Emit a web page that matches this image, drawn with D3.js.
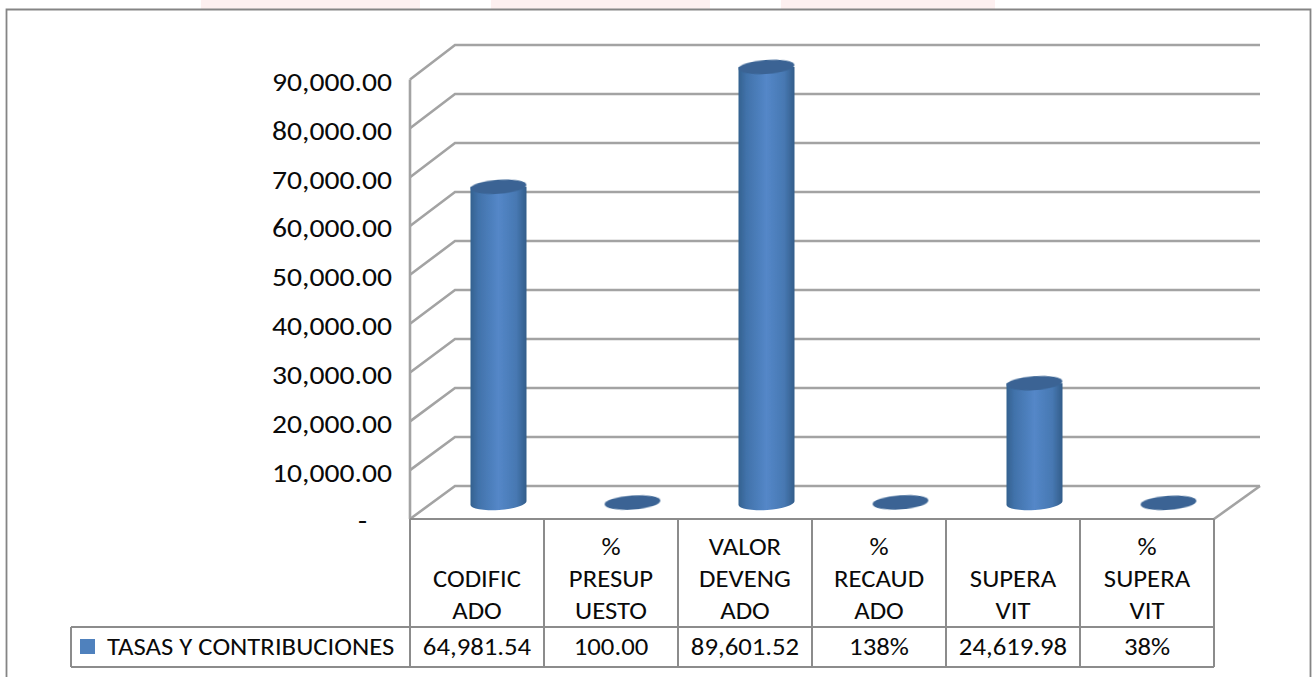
<!DOCTYPE html>
<html>
<head>
<meta charset="utf-8">
<script src="https://cdnjs.cloudflare.com/ajax/libs/d3/7.8.5/d3.min.js"></script>
<style>
  html, body { margin: 0; padding: 0; background: #fff; }
  svg { display: block; }
  text { font-family: Carlito, Lato, "Open Sans", sans-serif; fill: #0a0a0a; }
</style>
</head>
<body>
<svg id="chart" width="1316" height="677"></svg>
<script>
const categories = [['CODIFIC', 'ADO'], ['%', 'PRESUP', 'UESTO'], ['VALOR', 'DEVENG', 'ADO'], ['%', 'RECAUD', 'ADO'], ['SUPERA', 'VIT'], ['%', 'SUPERA', 'VIT']];
const values = [64981.54, 100, 89601.52, 138, 24619.98, 38];
const tableLabels = ['64,981.54', '100.00', '89,601.52', '138%', '24,619.98', '38%'];
const yTicks = [0, 10000, 20000, 30000, 40000, 50000, 60000, 70000, 80000, 90000];
const seriesName = 'TASAS Y CONTRIBUCIONES';
const washX = [[201, 420], [491, 710], [781, 995]];

const svg = d3.select('#chart');
const gridColor = '#a3a3a3';
const tableColor = '#8c8c8c';
// the source picture is stretched sideways, so the text is too
const axisStretch = 1.14;
const tableStretch = 1.07;

const x = d3.scaleBand().domain(d3.range(categories.length)).range([410, 1214]);
const yFront = d3.scaleLinear().domain([0, 90000]).range([519, 79.5]);
const yBack = d3.scaleLinear().domain([0, 90000]).range([486, 45]);
const yBar = d3.scaleLinear().domain([0, 90000]).range([503, 65]);
const depth = 45;

function createDefs() {
  const defs = svg.append('defs');
  const grad = defs.append('linearGradient').attr('id', 'cyl');
  [[0, '#34618f'], [0.14, '#4172aa'], [0.5, '#5487c8'], [0.82, '#4778b2'], [1, '#335d8a']].forEach(s => {
    grad.append('stop').attr('offset', s[0]).attr('stop-color', s[1]);
  });
  defs.append('filter').attr('id', 'soft')
    .append('feGaussianBlur').attr('stdDeviation', 0.6);
}

function createFrame() {
  svg.append('g').selectAll('rect')
    .data(washX)
    .join('rect')
    .attr('x', d => d[0])
    .attr('width', d => d[1] - d[0])
    .attr('y', 0)
    .attr('height', 9)
    .attr('fill', '#fdf0f0');
  svg.append('path')
    .attr('d', 'M6.5,677V9.5H1310.5V677')
    .attr('fill', 'none')
    .attr('stroke', '#858585')
    .attr('stroke-width', 1.8);
}

function createGrid() {
  const g = svg.append('g')
    .attr('fill', 'none')
    .attr('stroke', gridColor)
    .attr('stroke-width', 2.6)
    .attr('filter', 'url(#soft)');
  g.selectAll('path.grid')
    .data(yTicks)
    .join('path')
    .classed('grid', true)
    .attr('d', d => `M410,${yFront(d)}L${410 + depth},${yBack(d)}H1260`);
  g.append('path').attr('d', `M410,${yFront(0)}V${yFront(90000)}`);
  g.append('path').attr('d', `M1214,${yFront(0)}L1260,${yBack(0)}`);
}

function createAxis() {
  const axis = d3.axisLeft(yFront)
    .tickValues(yTicks)
    .tickSize(0)
    .tickPadding(18)
    .tickFormat(d => d === 0 ? '-' : d3.format(',.2f')(d));
  const g = svg.append('g')
    .attr('transform', 'translate(410,0)')
    .call(axis);
  g.select('.domain').remove();
  g.selectAll('text')
    .attr('dy', '0.42em')
    .attr('x', d => (d === 0 ? -43 : -18) / axisStretch)
    .attr('transform', `scale(${axisStretch},1)`)
    .style('font-size', '26px');
}

function createBars() {
  const rx = 28;
  const ry = 7;
  const g = svg.append('g').selectAll('g')
    .data(values)
    .join('g')
    .attr('transform', (d, i) => `translate(${x(i) + x.bandwidth() / 2 + 21.5},0)`);

  g.filter(d => d > 1000).append('path')
    .attr('d', d => `M${-rx},${yBar(d)}V${yBar(0) + 2}A${rx},${ry} -4 0 0 ${rx},${yBar(0) - 2}V${yBar(d)}Z`)
    .attr('fill', 'url(#cyl)')
    .attr('filter', 'url(#soft)');

  g.append('ellipse')
    .attr('rx', rx)
    .attr('ry', ry)
    .attr('transform', d => `translate(0,${yBar(d)}) rotate(-4)`)
    .attr('fill', '#3a6494')
    .attr('filter', 'url(#soft)');
}

function createTable() {
  const top = 519;
  const mid = 627;
  const bottom = 667;
  const g = svg.append('g')
    .attr('fill', 'none')
    .attr('stroke', tableColor)
    .attr('stroke-width', 2);
  g.selectAll('line.col')
    .data(d3.range(categories.length + 1))
    .join('line')
    .classed('col', true)
    .attr('x1', d => x(0) + d * x.bandwidth())
    .attr('x2', d => x(0) + d * x.bandwidth())
    .attr('y1', top)
    .attr('y2', bottom);
  g.append('path').attr('d', `M410,${top}H1214M71,${mid}H1214M71,${bottom}H1214M71,${mid}V${bottom}`);

  // category names sit at the bottom of their cell
  svg.append('g').selectAll('text')
    .data(categories)
    .join('text')
    .attr('text-anchor', 'middle')
    .style('font-size', '25px')
    .attr('transform', (d, i) => `translate(${x(i) + x.bandwidth() / 2},0) scale(${tableStretch},1)`)
    .selectAll('tspan')
    .data(d => d.map((t, k) => ({ t, fromEnd: d.length - 1 - k })))
    .join('tspan')
    .attr('x', 0)
    .attr('y', d => 619 - d.fromEnd * 32)
    .text(d => d.t);

  svg.append('g').selectAll('text')
    .data(tableLabels)
    .join('text')
    .attr('text-anchor', 'middle')
    .attr('transform', (d, i) => `translate(${x(i) + x.bandwidth() / 2},655) scale(${tableStretch},1)`)
    .style('font-size', '25px')
    .text(d => d);

  svg.append('rect')
    .attr('x', 80).attr('y', 639).attr('width', 15).attr('height', 15)
    .attr('fill', '#4f81bd');
  svg.append('text')
    .attr('transform', `translate(107,655) scale(${tableStretch},1)`)
    .style('font-size', '25px')
    .text(seriesName);
}

createDefs();
createFrame();
createGrid();
createBars();
createAxis();
createTable();
</script>
</body>
</html>
